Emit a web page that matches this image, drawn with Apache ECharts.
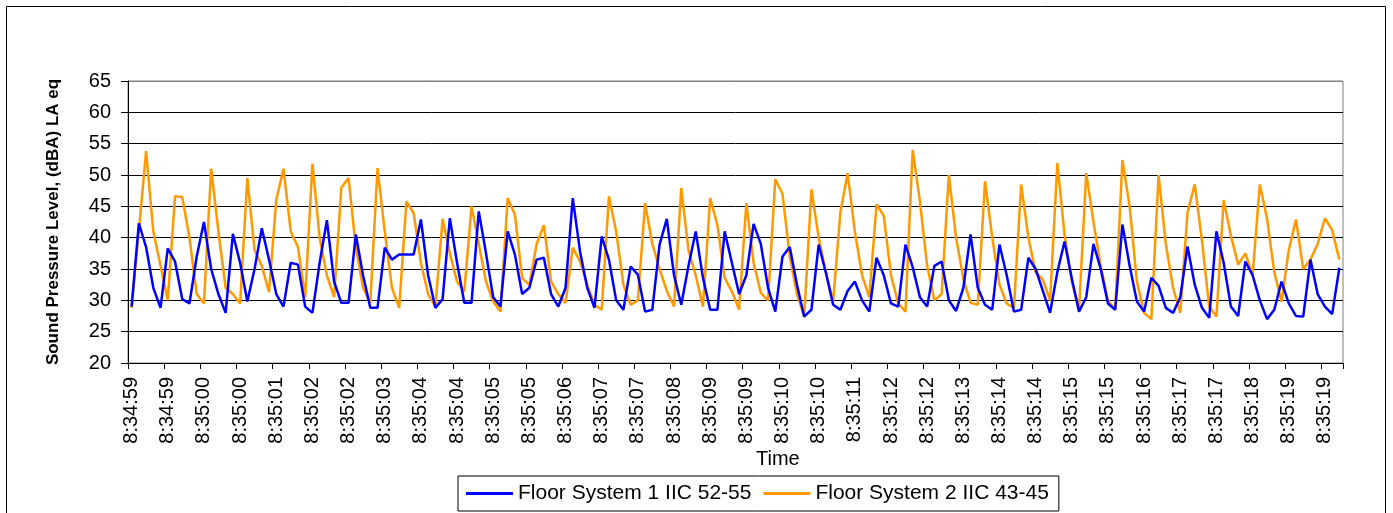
<!DOCTYPE html>
<html>
<head>
<meta charset="utf-8">
<script src="https://cdn.jsdelivr.net/npm/echarts@6/dist/echarts.min.js"></script>
<style>
html,body{margin:0;padding:0;background:#fff;}
#chart{width:1393px;height:513px;}
</style>
</head>
<body>
<div id="chart"></div>
<script>
// Tick labels, one per 5 samples (0.125 s sampling)
const tickLabels = [
  "8:34:59","8:34:59","8:35:00","8:35:00","8:35:01","8:35:02","8:35:02","8:35:03",
  "8:35:04","8:35:04","8:35:05","8:35:05","8:35:06","8:35:07","8:35:07","8:35:08",
  "8:35:09","8:35:09","8:35:10","8:35:10","8:35:11","8:35:12","8:35:12","8:35:13",
  "8:35:14","8:35:14","8:35:15","8:35:15","8:35:16","8:35:17","8:35:17","8:35:18",
  "8:35:19","8:35:19"
];

const seriesNames = ["Floor System 1 IIC 52-55", "Floor System 2 IIC 43-45"];

// Floor System 1 (blue)
const floor1 = [
  29,42.3,38.5,32,28.8,38.3,36.2,30.2,29.5,37,
  42.5,35,31,28,40.6,36,29.8,35,41.5,36.5,
  31,29,36,35.7,29,28,36,42.8,33,29.6,
  29.6,40.5,34,28.8,28.8,38.4,36.5,37.3,37.3,37.3,
  42.9,34,28.8,30.2,43.1,36,29.6,29.6,44.2,37.5,
  30.5,29,41,37.3,31,32,36.5,36.8,31,29,
  32,46.3,37.8,32,28.8,40.2,36.5,30,28.5,35.4,
  34.1,28.2,28.5,38.9,43,34,29.3,35.5,41,33.6,
  28.5,28.5,41,36,31,34,42.2,39,32,28.2,
  37,38.5,32.5,27.4,28.5,38.9,34.4,29.3,28.5,31.5,
  33,30,28.2,36.8,34,29.5,29,38.9,35.3,30.5,
  29,35.5,36.2,30,28.3,32,40.5,32,29.3,28.5,
  38.9,34,28.2,28.5,36.8,35,31.5,28,34.5,39.4,
  33.5,28.2,30.5,39,35,29.5,28.5,42.1,35.5,29.8,
  28.2,33.6,32.3,28.8,28,30.5,38.6,32.5,28.8,27.2,
  41,36,29,27.5,36.2,34,30,27,28.5,33,
  29.5,27.5,27.4,36.5,31,29,27.8,35.2
];

// Floor System 2 (orange)
const floor2 = [
  28.8,41,53.8,41,35.5,30,46.6,46.5,40,31,
  29.5,51,41,32,31,29.5,49.5,38,35.5,31.3,
  46,51,41,38.5,30.5,51.8,40,34,30.5,48,
  49.5,38.5,32,29.6,51.1,41,32,28.8,45.8,43.9,
  36,31,29,43,37.5,33,31.4,45,39,33,
  29.8,28.2,46.3,43.7,33.5,32.5,39,42,33,31,
  29.6,38.4,36.2,32.5,29.3,28.5,46.6,41,32.5,29.3,
  30,45.5,39,35,31.5,29,47.9,38,34,29,
  46.3,42,33.6,31.4,28.5,45.5,36,31.2,30,49.3,
  47,37,31,27.5,47.7,40,34.5,29.8,44,50.3,
  41,34,30.5,45.3,43.5,34,29.5,28.2,54,45.8,
  35.5,30,31,50,40,33.5,29.6,29.3,49,40,
  32.5,29.5,28.8,48.5,40,34.5,33.3,30,51.9,40.5,
  33,28.5,50.3,42.5,35.5,30,28.5,52.4,45,33,
  28,27,50,39,32,28,44,48.5,39.5,29,
  27.4,46,40.3,35.7,37.5,34,48.5,43,34.5,29.8,
  38,42.9,35,36.5,39,43.1,41.2,36.5
];

const categories = floor1.map((_, i) => tickLabels[Math.floor(i / 5)]);

const FONT = "'Liberation Sans', Arial, sans-serif";
const chart = echarts.init(document.getElementById('chart'), null, {renderer: 'canvas'});

chart.setOption({
  animation: false,
  backgroundColor: '#ffffff',
  textStyle: {fontFamily: FONT},
  title: {
    text: 'Time',
    left: 756,
    top: 449,
    padding: 0,
    textStyle: {fontSize: 20, fontWeight: 'normal', color: '#000', fontFamily: FONT}
  },
  graphic: [{
    type: 'rect',
    shape: {x: 6.5, y: 6.5, width: 1379, height: 520},
    style: {fill: 'none', stroke: '#000', lineWidth: 1},
    silent: true,
    z: -1
  }],
  legend: {
    left: 458,
    top: 476,
    orient: 'horizontal',
    icon: 'rect',
    itemWidth: 47,
    itemHeight: 3,
    itemGap: 12,
    padding: [7, 10, 7, 8],
    borderColor: '#000',
    borderWidth: 1,
    textStyle: {fontSize: 21, color: '#000', fontFamily: FONT, lineHeight: 21},
    data: seriesNames
  },
  grid: {
    left: 128, top: 81, width: 1215, height: 282,
    show: true, borderColor: '#808080', borderWidth: 1,
    containLabel: false
  },
  xAxis: {
    type: 'category',
    data: categories,
    boundaryGap: true,
    axisLine: {show: true, lineStyle: {color: '#000', width: 1}},
    axisTick: {show: true, interval: 4, length: 6, lineStyle: {color: '#000'}},
    axisLabel: {interval: 4, rotate: 90, fontSize: 20, color: '#000', margin: 14, fontFamily: FONT},
    splitLine: {show: false}
  },
  yAxis: {
    type: 'value',
    min: 20, max: 65, interval: 5,
    name: 'Sound Pressure Level, (dBA) LA eq',
    nameLocation: 'middle',
    nameRotate: 90,
    nameGap: 66,
    nameTextStyle: {fontSize: 17, fontWeight: 'bold', color: '#000', fontFamily: FONT},
    axisLine: {show: true, lineStyle: {color: '#000', width: 1}},
    axisTick: {show: true, length: 7, lineStyle: {color: '#000'}},
    axisLabel: {fontSize: 20, color: '#000', margin: 17, fontFamily: FONT},
    splitLine: {show: true, lineStyle: {color: ['#000','#000','#000','#000','#000','#000','#000','#000','#000','#808080'], width: 1}}
  },
  series: [
    {
      name: seriesNames[0], type: 'line', data: floor1,
      symbol: 'none', color: '#0000ff',
      lineStyle: {color: '#0000ff', width: 2.5}, z: 3
    },
    {
      name: seriesNames[1], type: 'line', data: floor2,
      symbol: 'none', color: '#ff9900',
      lineStyle: {color: '#ff9900', width: 2.5}, z: 2
    }
  ]
});
</script>
</body>
</html>
